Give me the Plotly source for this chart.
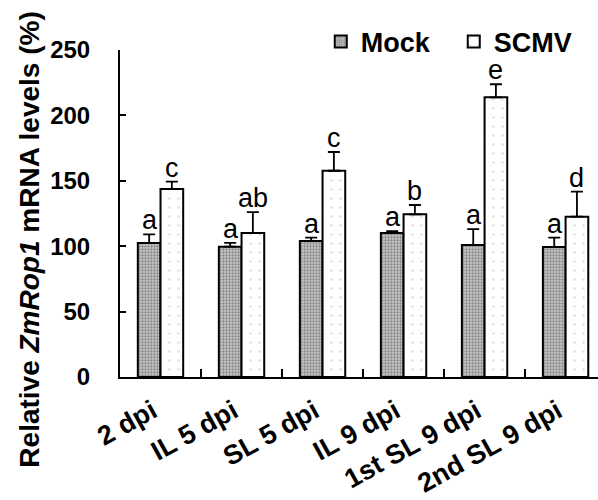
import plotly.graph_objects as go

categories = ["2 dpi", "IL 5 dpi", "SL 5 dpi", "IL 9 dpi", "1st SL 9 dpi", "2nd SL 9 dpi"]
mock_values = [102.5, 99.6, 104.0, 110.0, 101.0, 99.3]
mock_err = [6.5, 3.0, 2.5, 1.6, 12.0, 7.2]
scmv_values = [143.8, 110.0, 157.7, 124.4, 213.8, 122.6]
scmv_err = [5.5, 16.0, 14.3, 7.1, 10.0, 19.1]
mock_letters = ["a", "a", "a", "a", "a", "a"]
scmv_letters = ["c", "ab", "c", "b", "e", "d"]
y_ticks = [0, 50, 100, 150, 200, 250]

FONT = "Liberation Sans, Arial, sans-serif"

fig = go.Figure()
fig.add_trace(go.Bar(
    name="Mock", x=categories, y=mock_values,
    marker=dict(color="#b0b0b0", line=dict(color="black", width=2),
                pattern=dict(shape=".", size=3, fgcolor="#444444", bgcolor="#c8c8c8", solidity=0.45)),
    error_y=dict(type="data", symmetric=False, array=mock_err, arrayminus=[0]*len(mock_err),
                 color="black", thickness=1.8, width=6),
))
fig.add_trace(go.Bar(
    name="SCMV", x=categories, y=scmv_values,
    marker=dict(color="white", line=dict(color="black", width=2),
                pattern=dict(shape=".", size=9, fgcolor="#bdbdbd", bgcolor="white", solidity=0.06)),
    error_y=dict(type="data", symmetric=False, array=scmv_err, arrayminus=[0]*len(scmv_err),
                 color="black", thickness=1.8, width=6),
))

annotations = []
for i, c in enumerate(categories):
    annotations.append(dict(x=c, y=mock_values[i] + mock_err[i], text=mock_letters[i],
                            xref="x", yref="y", showarrow=False, yanchor="bottom",
                            xshift=-11, yshift=-3, font=dict(family=FONT, size=27, color="black")))
    annotations.append(dict(x=c, y=scmv_values[i] + scmv_err[i], text=scmv_letters[i],
                            xref="x", yref="y", showarrow=False, yanchor="bottom",
                            xshift=11, yshift=-3, font=dict(family=FONT, size=27, color="black")))
annotations.append(dict(text="<b>Relative <i>ZmRop1</i> mRNA levels (%)</b>", textangle=-90,
                        xref="paper", yref="paper", x=0, y=0.42, xshift=-90,
                        showarrow=False, xanchor="center", yanchor="middle",
                        font=dict(family=FONT, size=28, color="black")))

fig.update_layout(
    width=598, height=500,
    margin=dict(l=120, r=0, t=50, b=123, autoexpand=False),
    plot_bgcolor="white", paper_bgcolor="white",
    barmode="group", bargap=0.44, bargroupgap=0.0,
    showlegend=True,
    legend=dict(orientation="h", x=0.42, y=1.025, xanchor="left", yanchor="middle",
                font=dict(family=FONT, size=27, color="black", weight="bold"),
                bgcolor="rgba(0,0,0,0)", itemwidth=30, entrywidth=88, entrywidthmode="pixels"),
    annotations=annotations,
    xaxis=dict(range=[-0.5, 5.4], showline=True, linecolor="black", linewidth=2,
               ticks="inside", ticklen=8, tickwidth=2, tickcolor="black", tickson="boundaries",
               tickangle=-29, tickfont=dict(family=FONT, size=27, color="black", weight="bold"),
               ticklabelstandoff=6, ticklabelshift=-8, showgrid=False, zeroline=False),
    yaxis=dict(range=[0, 250], tickvals=y_ticks, showline=True, linecolor="black", linewidth=2,
               ticks="inside", ticklen=6, tickwidth=2, tickcolor="black",
               tickfont=dict(family=FONT, size=24, color="black", weight="bold"),
               ticklabelstandoff=23, showgrid=False, zeroline=False),
)

fig.write_html("out.html", config={"displayModeBar": False},
               post_script="document.body.style.margin='0px';")
